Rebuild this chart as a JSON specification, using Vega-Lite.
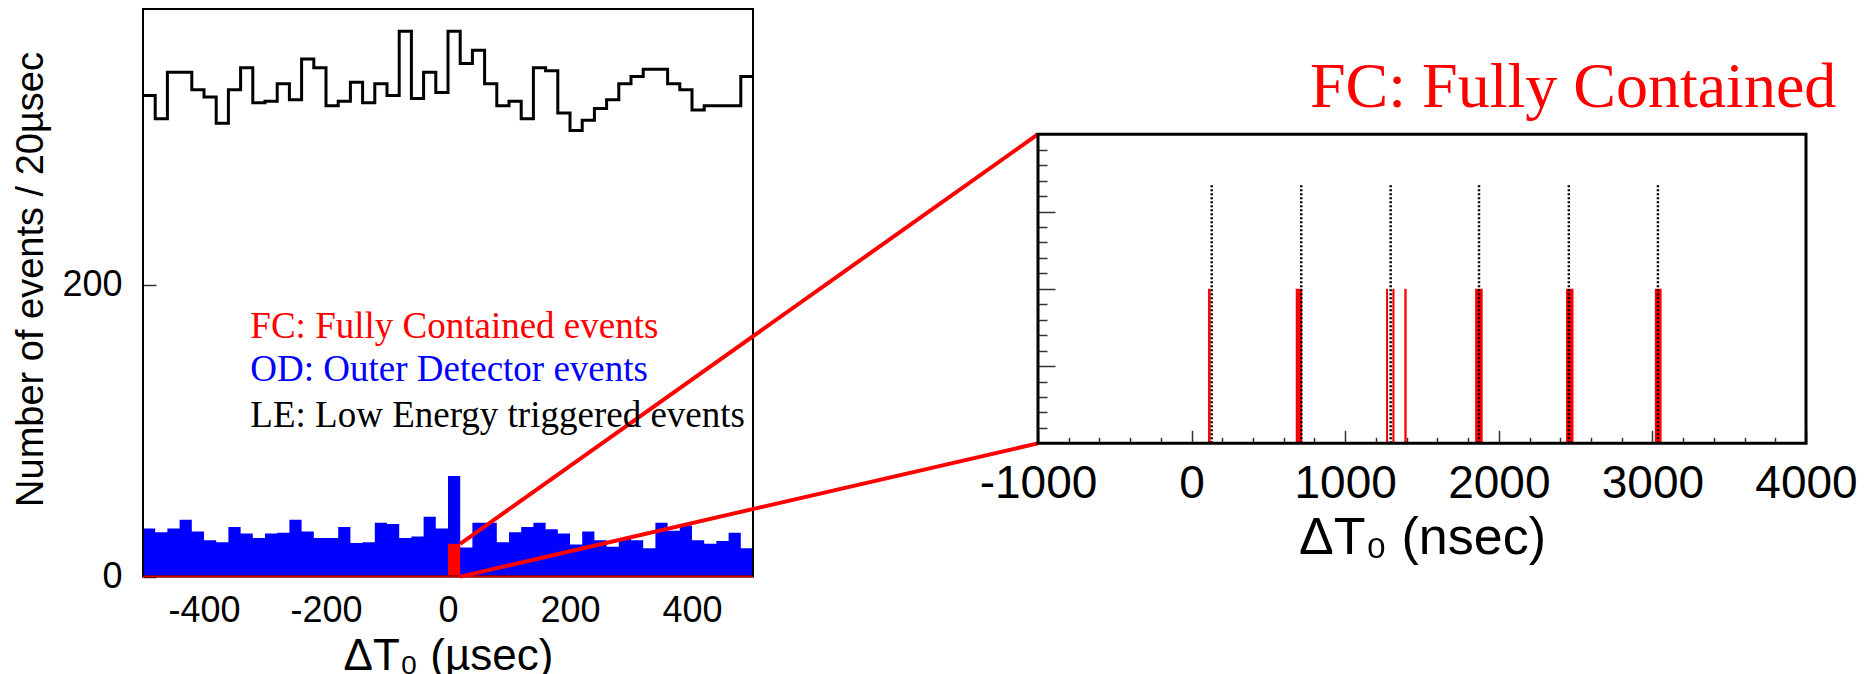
{
  "$schema": "https://vega.github.io/schema/vega-lite/v6.json",
  "width": 1868,
  "height": 674,
  "padding": 0,
  "autosize": {"type": "none"},
  "background": "white",
  "config": {
    "view": {"stroke": null},
    "axis": {"domain": false, "grid": false, "labelFont": "Liberation Sans", "titleFont": "Liberation Sans", "labelColor": "black", "titleColor": "black", "titleFontWeight": "normal", "tickColor": "#333", "tickWidth": 1.5}
  },
  "datasets": {
    "hist": [
      {"t0": -500, "le": 330, "od": 33}, {"t0": -480, "le": 314, "od": 30.5}, {"t0": -460, "le": 346, "od": 33},
      {"t0": -440, "le": 346, "od": 39}, {"t0": -420, "le": 334, "od": 31}, {"t0": -400, "le": 329, "od": 25},
      {"t0": -380, "le": 311, "od": 23.5}, {"t0": -360, "le": 334, "od": 34}, {"t0": -340, "le": 349, "od": 29.5},
      {"t0": -320, "le": 325, "od": 26.5}, {"t0": -300, "le": 326, "od": 29.5}, {"t0": -280, "le": 338, "od": 30},
      {"t0": -260, "le": 327, "od": 39}, {"t0": -240, "le": 355, "od": 31}, {"t0": -220, "le": 349, "od": 26.5},
      {"t0": -200, "le": 323, "od": 26.5}, {"t0": -180, "le": 326, "od": 34}, {"t0": -160, "le": 339, "od": 23},
      {"t0": -140, "le": 325, "od": 23.5}, {"t0": -120, "le": 338, "od": 37}, {"t0": -100, "le": 330, "od": 36},
      {"t0": -80, "le": 374, "od": 26.5}, {"t0": -60, "le": 328, "od": 27.5}, {"t0": -40, "le": 346, "od": 41},
      {"t0": -20, "le": 332, "od": 33}, {"t0": 0, "le": 374, "od": 69}, {"t0": 20, "le": 352, "od": 20},
      {"t0": 40, "le": 361, "od": 37}, {"t0": 60, "le": 338, "od": 37}, {"t0": 80, "le": 323, "od": 23.5},
      {"t0": 100, "le": 326, "od": 30.5}, {"t0": 120, "le": 314, "od": 34}, {"t0": 140, "le": 349, "od": 37},
      {"t0": 160, "le": 347, "od": 32.5}, {"t0": 180, "le": 318, "od": 29.5}, {"t0": 200, "le": 306, "od": 22},
      {"t0": 220, "le": 313, "od": 31}, {"t0": 240, "le": 321, "od": 25}, {"t0": 260, "le": 327, "od": 20.5},
      {"t0": 280, "le": 338, "od": 26.5}, {"t0": 300, "le": 343, "od": 25}, {"t0": 320, "le": 348, "od": 19.5},
      {"t0": 340, "le": 348, "od": 37}, {"t0": 360, "le": 338, "od": 31.5}, {"t0": 380, "le": 334, "od": 35},
      {"t0": 400, "le": 320, "od": 25}, {"t0": 420, "le": 323, "od": 22.5}, {"t0": 440, "le": 323, "od": 24.5},
      {"t0": 460, "le": 323, "od": 30}, {"t0": 480, "le": 343, "od": 19.5}, {"t0": 500, "le": 343, "od": 19.5}
    ],
    "fcLeft": [{"t0": 0, "t1": 20, "n": 22.5}],
    "frameLeft": [{"x0": -500, "x1": 500, "y0": 0, "y1": 389.3}],
    "baseLeft": [{"x0": -500, "x1": 500, "y": 0}],
    "connectors": [
      {"xa": 20, "ya": 22.5, "xb": 967.2, "yb": 303.4},
      {"xa": 20, "ya": 0, "xb": 967.2, "yb": 91.4}
    ],
    "legendText": [
      {"x": -324, "y": 163.5, "label": "FC: Fully Contained events", "c": "FC"},
      {"x": -324, "y": 134.4, "label": "OD: Outer Detector events", "c": "OD"},
      {"x": -324, "y": 102.8, "label": "LE: Low Energy triggered events", "c": "LE"}
    ],
    "fcRight": [
      {"t0": 107, "t1": 124, "n": 2}, {"t0": 678, "t1": 720, "n": 2}, {"t0": 1266, "t1": 1279, "n": 2},
      {"t0": 1307, "t1": 1321, "n": 2}, {"t0": 1385, "t1": 1400, "n": 2}, {"t0": 1846, "t1": 1895, "n": 2},
      {"t0": 2438, "t1": 2486, "n": 2}, {"t0": 3016, "t1": 3060, "n": 2}
    ],
    "bunches": [
      {"t": 131, "b": 0, "top": 3.36}, {"t": 714, "b": 0, "top": 3.36}, {"t": 1296, "b": 0, "top": 3.36},
      {"t": 1871, "b": 0, "top": 3.36}, {"t": 2456, "b": 0, "top": 3.36}, {"t": 3036, "b": 0, "top": 3.36}
    ],
    "frameRight": [{"x0": -1000, "x1": 4000, "y0": 0, "y1": 4}],
    "titleRight": [{"x": 771, "y": 4.353, "label": "FC: Fully Contained"}]
  },
  "layer": [
    {
      "data": {"name": "hist"},
      "mark": {"type": "area", "interpolate": "step-after", "color": "#0000ff"},
      "encoding": {
        "x": {"field": "t0", "type": "quantitative", "scale": {"domain": [-500, 500], "range": [143, 753], "nice": false, "zero": false},
          "axis": {"orient": "bottom", "offset": -97.4, "values": [-400, -200, 0, 200, 400], "tickSize": -10, "labelPadding": 27, "labelFontSize": 36, "labelFlush": false, "labelExpr": "'' + datum.value",
            "title": "ΔT₀ (µsec)", "titleFontSize": 44, "titleX": 448, "titleY": 93, "titleAlign": "center", "titleBaseline": "alphabetic"}},
        "y": {"field": "od", "type": "quantitative", "scale": {"domain": [0, 389.3], "range": [576.6, 9], "nice": false, "zero": false},
          "axis": {"orient": "left", "offset": -143, "values": [0, 200], "tickSize": -13, "labelPadding": 34, "labelFontSize": 36, "labelAlign": "right", "labelBaseline": "middle", "labelFlush": false,
            "title": "Number of events / 20µsec", "titleFontSize": 38, "titleAngle": 270, "titleX": -101, "titleY": 279, "titleAlign": "center", "titleBaseline": "alphabetic"}}
      }
    },
    {
      "data": {"name": "hist"},
      "mark": {"type": "line", "interpolate": "step-after", "color": "black", "strokeWidth": 3, "strokeJoin": "miter"},
      "encoding": {
        "x": {"field": "t0", "type": "quantitative", "scale": {"domain": [-500, 500], "range": [143, 753], "nice": false, "zero": false},
          "axis": {"orient": "bottom", "offset": -97.4, "values": [-450, -350, -300, -250, -150, -100, -50, 50, 100, 150, 250, 300, 350, 450], "tickSize": -5, "labels": false, "title": null}},
        "y": {"field": "le", "type": "quantitative", "scale": {"domain": [0, 389.3], "range": [576.6, 9], "nice": false, "zero": false}, "axis": null}
      }
    },
    {
      "data": {"name": "fcLeft"},
      "mark": {"type": "rect", "color": "#ff0000"},
      "encoding": {
        "x": {"field": "t0", "type": "quantitative", "scale": {"domain": [-500, 500], "range": [143, 753], "nice": false, "zero": false}, "axis": null},
        "x2": {"field": "t1"},
        "y": {"field": "n", "type": "quantitative", "scale": {"domain": [0, 389.3], "range": [576.6, 9], "nice": false, "zero": false}, "axis": null},
        "y2": {"datum": 0}
      }
    },
    {
      "data": {"name": "frameLeft"},
      "mark": {"type": "rect", "filled": false, "color": "black", "strokeWidth": 2},
      "encoding": {
        "x": {"field": "x0", "type": "quantitative", "scale": {"domain": [-500, 500], "range": [143, 753], "nice": false, "zero": false}, "axis": null},
        "x2": {"field": "x1"},
        "y": {"field": "y0", "type": "quantitative", "scale": {"domain": [0, 389.3], "range": [576.6, 9], "nice": false, "zero": false}, "axis": null},
        "y2": {"field": "y1"}
      }
    },
    {
      "data": {"name": "baseLeft"},
      "mark": {"type": "rule", "color": "#cc0000", "strokeWidth": 2},
      "encoding": {
        "x": {"field": "x0", "type": "quantitative", "scale": {"domain": [-500, 500], "range": [143, 753], "nice": false, "zero": false}, "axis": null},
        "x2": {"field": "x1"},
        "y": {"field": "y", "type": "quantitative", "scale": {"domain": [0, 389.3], "range": [576.6, 9], "nice": false, "zero": false}, "axis": null}
      }
    },
    {
      "data": {"name": "connectors"},
      "mark": {"type": "rule", "color": "#ff0000", "strokeWidth": 4},
      "encoding": {
        "x": {"field": "xa", "type": "quantitative", "scale": {"domain": [-500, 500], "range": [143, 753], "nice": false, "zero": false}, "axis": null},
        "x2": {"field": "xb"},
        "y": {"field": "ya", "type": "quantitative", "scale": {"domain": [0, 389.3], "range": [576.6, 9], "nice": false, "zero": false}, "axis": null},
        "y2": {"field": "yb"}
      }
    },
    {
      "data": {"name": "legendText"},
      "mark": {"type": "text", "align": "left", "baseline": "alphabetic", "font": "Liberation Serif", "fontSize": 37},
      "encoding": {
        "x": {"field": "x", "type": "quantitative", "scale": {"domain": [-500, 500], "range": [143, 753], "nice": false, "zero": false}, "axis": null},
        "y": {"field": "y", "type": "quantitative", "scale": {"domain": [0, 389.3], "range": [576.6, 9], "nice": false, "zero": false}, "axis": null},
        "text": {"field": "label", "type": "nominal"},
        "color": {"field": "c", "type": "nominal", "scale": {"domain": ["FC", "OD", "LE"], "range": ["#ff0000", "#0000ff", "#000000"]}, "legend": null}
      }
    },
    {
      "data": {"name": "fcRight"},
      "mark": {"type": "rect", "color": "#ff0000"},
      "encoding": {
        "x": {"field": "t0", "type": "quantitative", "scale": {"domain": [-1000, 4000], "range": [1038, 1806], "nice": false, "zero": false},
          "axis": {"orient": "bottom", "offset": -230.7, "values": [-1000, 0, 1000, 2000, 3000, 4000], "tickSize": -13, "labelPadding": 31, "labelFontSize": 46, "labelFlush": false, "labelExpr": "'' + datum.value",
            "title": "ΔT₀  (nsec)", "titleFontSize": 52, "titleX": 1422, "titleY": 110, "titleAlign": "center", "titleBaseline": "alphabetic"}},
        "x2": {"field": "t1"},
        "y": {"field": "n", "type": "quantitative", "scale": {"domain": [0, 4], "range": [443.3, 134.3], "nice": false, "zero": false},
          "axis": {"orient": "left", "offset": -1038, "values": [1, 2, 3], "tickSize": -17, "labels": false, "title": null}},
        "y2": {"datum": 0}
      }
    },
    {
      "data": {"name": "bunches"},
      "mark": {"type": "rule", "color": "black", "strokeWidth": 2.5, "strokeDash": [2, 2]},
      "encoding": {
        "x": {"field": "t", "type": "quantitative", "scale": {"domain": [-1000, 4000], "range": [1038, 1806], "nice": false, "zero": false},
          "axis": {"orient": "bottom", "offset": -230.7, "values": [-800, -600, -400, -200, 200, 400, 600, 800, 1200, 1400, 1600, 1800, 2200, 2400, 2600, 2800, 3200, 3400, 3600, 3800], "tickSize": -6, "labels": false, "title": null}},
        "y": {"field": "b", "type": "quantitative", "scale": {"domain": [0, 4], "range": [443.3, 134.3], "nice": false, "zero": false},
          "axis": {"orient": "left", "offset": -1038, "values": [0.2, 0.4, 0.6, 0.8, 1.2, 1.4, 1.6, 1.8, 2.2, 2.4, 2.6, 2.8, 3.2, 3.4, 3.6, 3.8], "tickSize": -9, "labels": false, "title": null}},
        "y2": {"field": "top"}
      }
    },
    {
      "data": {"name": "frameRight"},
      "mark": {"type": "rect", "filled": false, "color": "black", "strokeWidth": 3},
      "encoding": {
        "x": {"field": "x0", "type": "quantitative", "scale": {"domain": [-1000, 4000], "range": [1038, 1806], "nice": false, "zero": false}, "axis": null},
        "x2": {"field": "x1"},
        "y": {"field": "y0", "type": "quantitative", "scale": {"domain": [0, 4], "range": [443.3, 134.3], "nice": false, "zero": false}, "axis": null},
        "y2": {"field": "y1"}
      }
    },
    {
      "data": {"name": "titleRight"},
      "mark": {"type": "text", "align": "left", "baseline": "alphabetic", "font": "Liberation Serif", "fontSize": 64, "color": "#ff0000"},
      "encoding": {
        "x": {"field": "x", "type": "quantitative", "scale": {"domain": [-1000, 4000], "range": [1038, 1806], "nice": false, "zero": false}, "axis": null},
        "y": {"field": "y", "type": "quantitative", "scale": {"domain": [0, 4], "range": [443.3, 134.3], "nice": false, "zero": false}, "axis": null},
        "text": {"field": "label", "type": "nominal"}
      }
    }
  ],
  "resolve": {"scale": {"x": "independent", "y": "independent"}, "axis": {"x": "independent", "y": "independent"}}
}
